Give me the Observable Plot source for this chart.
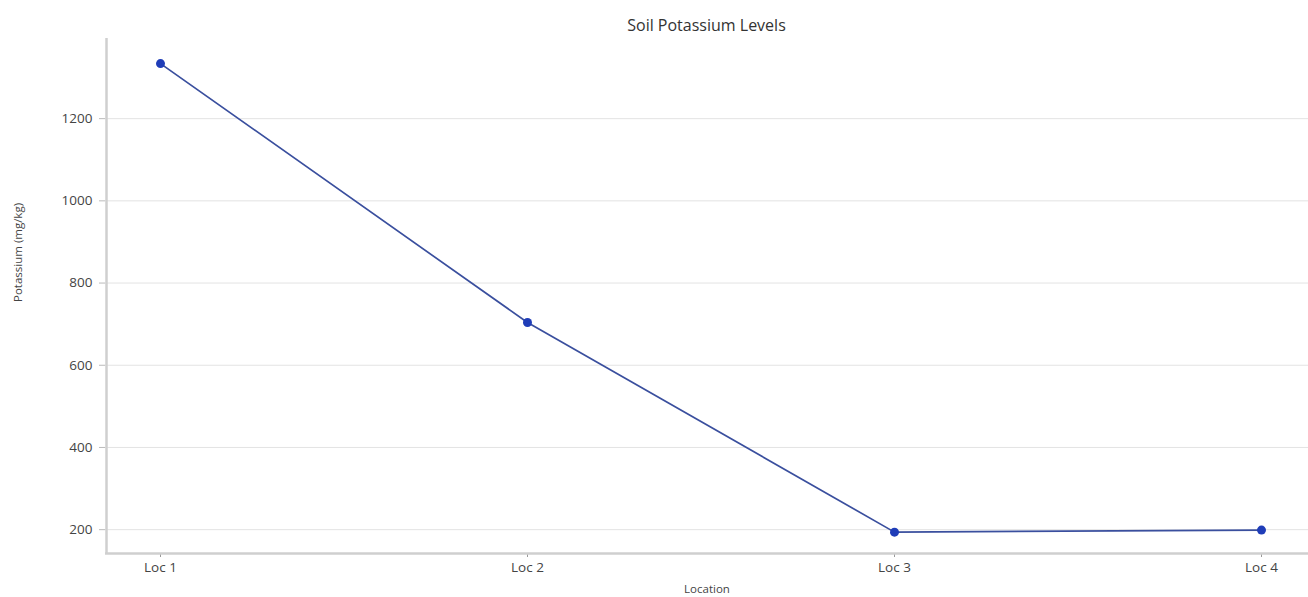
<!DOCTYPE html>
<html>
<head>
<meta charset="utf-8">
<script src="https://cdn.jsdelivr.net/npm/d3@7"></script>
<script src="https://cdn.jsdelivr.net/npm/@observablehq/plot@0.6"></script>
<style>
  html, body { margin: 0; padding: 0; background: #fff; }
  #title { height: 34px; box-sizing: border-box; padding-top: 14px; padding-left: 105px; line-height: 20px;
           text-align: center; font: 16px "Open Sans", sans-serif; color: #333; width: 1308px; }
</style>
</head>
<body>
<div id="title">Soil Potassium Levels</div>
<div id="chart"></div>
<script>
const locations = ["Loc 1", "Loc 2", "Loc 3", "Loc 4"];
const potassium = [1334, 704, 194, 199];
const yTicks = [200, 400, 600, 800, 1000, 1200];
const yMin = 142, yMax = 1395;

const data = locations.map((loc, i) => ({loc, k: potassium[i]}));

const chart = Plot.plot({
  width: 1308,
  height: 563,
  marginTop: 4,
  marginBottom: 44,
  marginLeft: 105,
  marginRight: 0,
  style: {fontFamily: "'Open Sans', sans-serif", color: "#444", background: "#fff"},
  x: {type: "point", domain: locations, padding: 0, insetLeft: 54, insetRight: 46},
  y: {domain: [yMin, yMax]},
  marks: [
    Plot.gridY(yTicks, {stroke: "#e3e3e3", strokeOpacity: 1, strokeWidth: 1}),
    Plot.axisY(yTicks, {tickSize: 6, tickPadding: 7, fontSize: 13.5, stroke: "#bbb", label: null, tickFormat: d3.format("d")}),
    Plot.axisX({tickSize: 4, tickPadding: 5, fontSize: 13.5, stroke: "#999", label: null}),
    Plot.ruleY([yMin], {stroke: "#cfcfcf", strokeWidth: 2.5}),
    Plot.ruleX([locations[0]], {dx: -54, y1: yMin, y2: yMax, stroke: "#cfcfcf", strokeWidth: 2.5}),
    Plot.line(data, {x: "loc", y: "k", stroke: "#3a4f9e", strokeWidth: 1.7}),
    Plot.dot(data, {x: "loc", y: "k", r: 4.5, fill: "#1f3db8", stroke: "none"}),
    Plot.text(["Location"], {frameAnchor: "bottom", dy: 39, fontSize: 11.5, fill: "#444"}),
    Plot.text(["Potassium (mg/kg)"], {frameAnchor: "left", dx: -87, dy: 6, rotate: -90, fontSize: 11.5, fill: "#444"})
  ]
});
document.getElementById("chart").appendChild(chart);
</script>
</body>
</html>
